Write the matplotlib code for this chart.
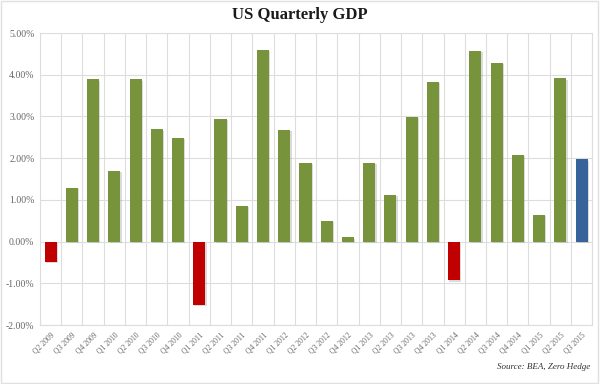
import matplotlib
matplotlib.use("Agg")
import matplotlib.pyplot as plt
import matplotlib.patheffects as pe
from matplotlib.ticker import FuncFormatter, MultipleLocator

quarters = ["Q2 2009", "Q3 2009", "Q4 2009", "Q1 2010", "Q2 2010", "Q3 2010", "Q4 2010",
            "Q1 2011", "Q2 2011", "Q3 2011", "Q4 2011", "Q1 2012", "Q2 2012", "Q3 2012",
            "Q4 2012", "Q1 2013", "Q2 2013", "Q3 2013", "Q4 2013", "Q1 2014", "Q2 2014",
            "Q3 2014", "Q4 2014", "Q1 2015", "Q2 2015", "Q3 2015"]
gdp = [-0.49, 1.29, 3.89, 1.69, 3.89, 2.69, 2.49, -1.52, 2.95, 0.85, 4.60, 2.67, 1.89,
       0.49, 0.10, 1.89, 1.12, 2.99, 3.83, -0.93, 4.57, 4.29, 2.07, 0.64, 3.91, 1.97]
is_estimate = [False] * 25 + [True]

green = "#77933C"
red = "#C00000"
blue = "#36639A"
colors = [blue if est else (red if v < 0 else green) for v, est in zip(gdp, is_estimate)]

plt.rcParams['font.family'] = ['Liberation Serif', 'DejaVu Serif']

fig = plt.figure(figsize=(6, 3.84), dpi=100)
ax = fig.add_axes([0.0667, 0.1536, 0.9203, 0.7604])

x = list(range(len(quarters)))
bars = ax.bar(x, gdp, width=0.57, color=colors, zorder=3)
for b in bars:
    b.set_path_effects([pe.SimplePatchShadow(offset=(0.9, -0.9), shadow_rgbFace="#999999", alpha=0.35), pe.Normal()])

ax.set_xlim(-0.5, len(quarters) - 0.5)
ax.set_ylim(-2, 5)
ax.yaxis.set_major_locator(MultipleLocator(1))
ax.yaxis.set_major_formatter(FuncFormatter(lambda v, p: f"{v:.2f}%"))
ax.set_xticks(x)
ax.set_xticklabels(quarters, rotation=45, ha="right", va="top", fontsize=5.5, color="#666666",
                   rotation_mode="anchor")
ax.tick_params(axis="y", labelsize=7, colors="#666666", length=0, pad=4)
ax.tick_params(axis="x", length=0, pad=4)

ax.grid(axis="y", color="#DDDDDD", linewidth=0.8, zorder=0)
for i in range(len(quarters) + 1):
    ax.axvline(i - 0.5, color="#DDDDDD", linewidth=0.8, zorder=0)
for s in ax.spines.values():
    s.set_color("#DDDDDD")
    s.set_linewidth(0.8)

fig.text(0.5, 0.96, "US Quarterly GDP", ha="center", va="center", fontsize=12,
         fontweight="bold", color="#1a1a1a")
fig.text(0.983, 0.045, "Source: BEA, Zero Hedge", ha="right", va="center", fontsize=6.5,
         style="italic", color="#333333")

border = plt.Rectangle((0.002, 0.003), 0.995, 0.994, transform=fig.transFigure, fill=False,
                       edgecolor="#E0E0E0", linewidth=1)
fig.add_artist(border)

fig.savefig("out.png", dpi=100)
